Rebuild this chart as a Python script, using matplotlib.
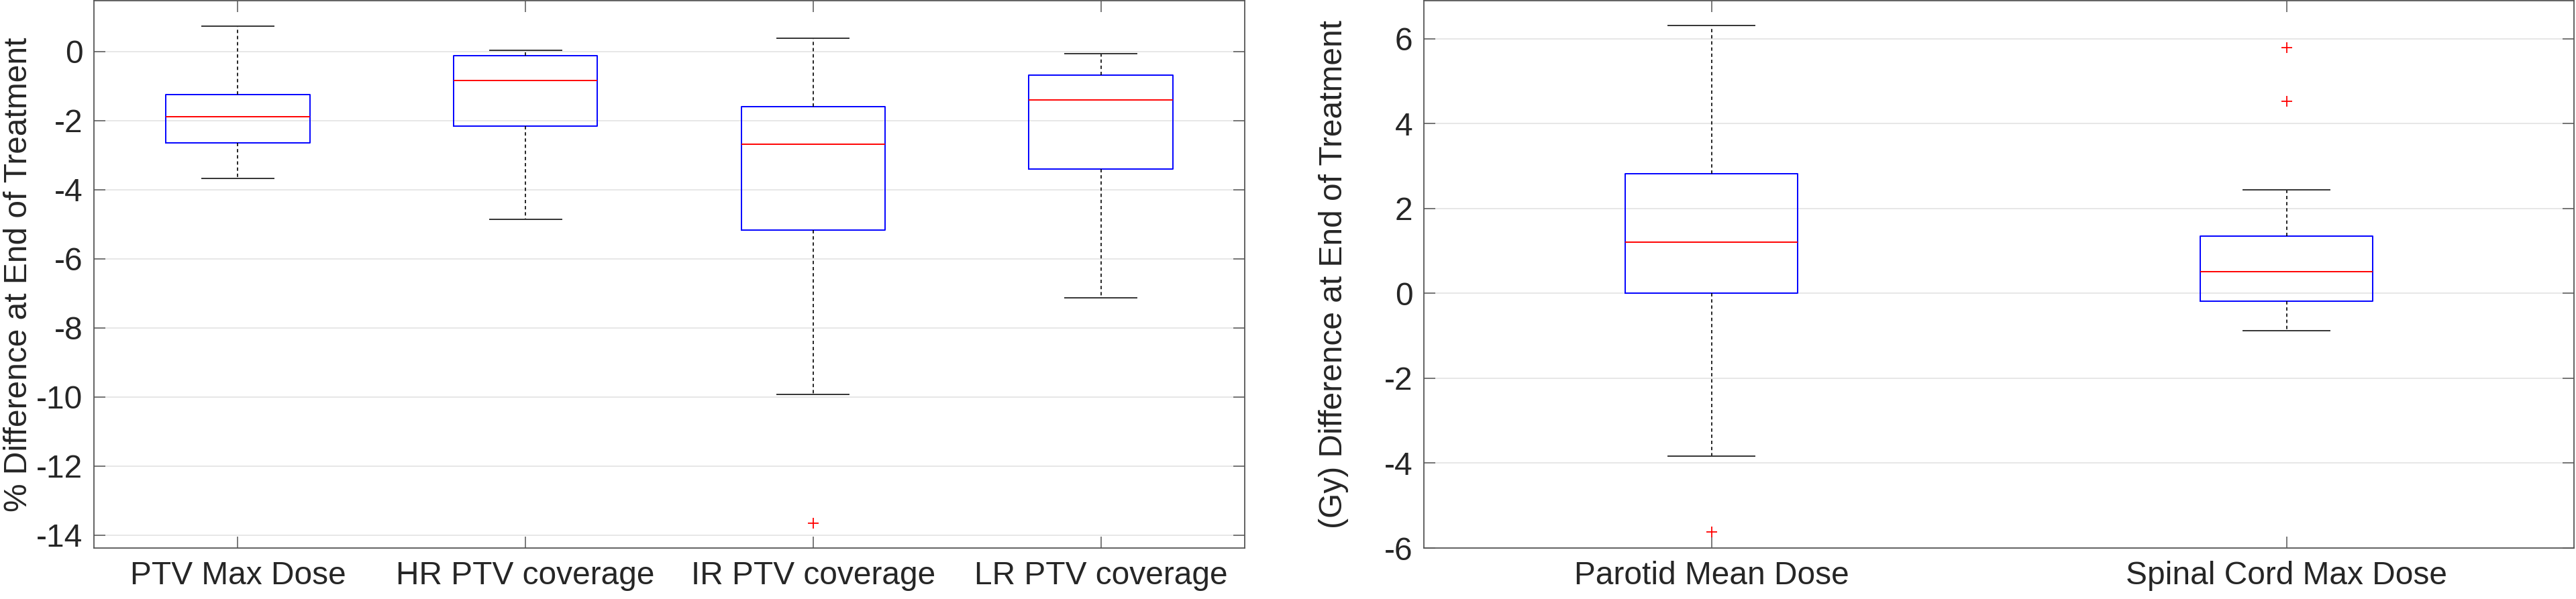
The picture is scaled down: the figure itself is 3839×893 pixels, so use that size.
import numpy as np
import matplotlib.pyplot as plt

plt.rcParams['font.family'] = ['Liberation Sans', 'DejaVu Sans']
plt.rcParams['axes.unicode_minus'] = False

# left panel: % difference at end of treatment
ptv_labels = ['PTV Max Dose', 'HR PTV coverage', 'IR PTV coverage', 'LR PTV coverage']
ptv_whislo = [-3.68, -4.86, -9.92, -7.13]
ptv_q1 = [-2.64, -2.16, -5.17, -3.41]
ptv_med = [-1.89, -0.84, -2.69, -1.40]
ptv_q3 = [-1.24, -0.13, -1.60, -0.68]
ptv_whishi = [0.73, 0.03, 0.39, -0.07]
ptv_fliers = [[], [], [-13.66], []]

# right panel: Gy difference at end of treatment
oar_labels = ['Parotid Mean Dose', 'Spinal Cord Max Dose']
oar_whislo = [-3.84, -0.88]
oar_q1 = [0.0, -0.19]
oar_med = [1.21, 0.51]
oar_q3 = [2.82, 1.35]
oar_whishi = [6.31, 2.44]
oar_fliers = [[-5.62], [5.79, 4.53]]

TXT = '#262626'
SPINE = '#555555'
FS = 34.5


def make_stats(labels, lo, q1, med, q3, hi, fl):
    stats = []
    for i in range(len(labels)):
        stats.append(dict(label=labels[i], whislo=lo[i], q1=q1[i], med=med[i],
                          q3=q3[i], whishi=hi[i], fliers=np.array(fl[i])))
    return stats


def draw(ax, stats, width, ylim, yticks, ylabel, label_x):
    ax.bxp(stats, widths=width, showfliers=True,
           boxprops=dict(color='blue', linewidth=1.4),
           medianprops=dict(color='red', linewidth=1.4),
           whiskerprops=dict(color='black', linewidth=1.2, linestyle=(0, (3, 2.5))),
           capprops=dict(color='#333333', linewidth=1.4),
           capwidths=width / 2,
           flierprops=dict(marker='+', markeredgecolor='red', markersize=12,
                           markeredgewidth=1.3, linestyle='none'))
    n = len(stats)
    ax.set_xlim(0.5, n + 0.5)
    ax.set_ylim(*ylim)
    ax.set_yticks(yticks)
    ax.yaxis.grid(True, color='#e3e3e3', linewidth=1.2)
    ax.set_axisbelow(True)
    ax.tick_params(axis='both', direction='in', length=12, width=1.1,
                   color=SPINE, labelsize=FS, labelcolor=TXT,
                   top=True, right=True)
    ax.tick_params(axis='y', pad=12)
    ax.tick_params(axis='x', pad=14)
    for s in ax.spines.values():
        s.set_color(SPINE)
        s.set_linewidth(1.3)
    ax.set_ylabel(ylabel, fontsize=FS, color=TXT)
    ax.yaxis.set_label_coords(label_x, 0.5)


fig = plt.figure(figsize=(38.39, 8.93), dpi=100)
ax1 = fig.add_axes([0.03647, 0.0851, 0.44673, 0.9138])
ax2 = fig.add_axes([0.55275, 0.0851, 0.44647, 0.9138])

draw(ax1, make_stats(ptv_labels, ptv_whislo, ptv_q1, ptv_med, ptv_q3, ptv_whishi, ptv_fliers),
     0.5, (-14.37, 1.47), np.arange(-14, 1, 2), '% Difference at End of Treatment', -0.0525)
draw(ax2, make_stats(oar_labels, oar_whislo, oar_q1, oar_med, oar_q3, oar_whishi, oar_fliers),
     0.3, (-6, 6.9), np.arange(-6, 7, 2), '(Gy) Difference at End of Treatment', -0.0653)

fig.savefig('out.png', dpi=100, facecolor='white')
